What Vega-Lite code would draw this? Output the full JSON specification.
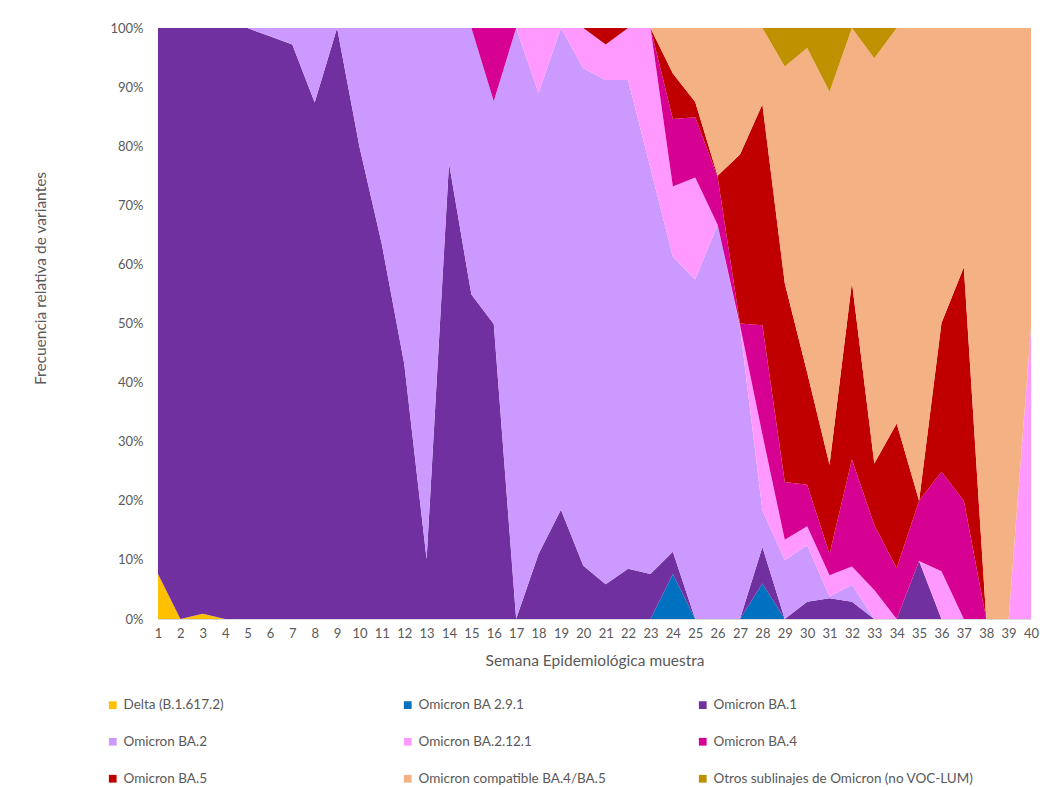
{
  "$schema": "https://vega.github.io/schema/vega-lite/v6.json",
  "width": 873,
  "height": 591,
  "autosize": {"type": "none"},
  "padding": {"left": 158, "top": 28, "right": 24, "bottom": 168},
  "background": "white",
  "config": {
    "font": "Lato",
    "view": {"stroke": null},
    "axis": {"labelFont": "Lato", "titleFont": "Lato", "labelColor": "#595959", "titleColor": "#595959", "labelFontSize": 13, "titleFontSize": 15.5, "titleFontWeight": "normal", "grid": false}
  },
  "datasets": {
    "nombres": [
      {"key": "a1", "variante": "Delta (B.1.617.2)"},
      {"key": "a2", "variante": "Omicron BA 2.9.1"},
      {"key": "a3", "variante": "Omicron BA.1"},
      {"key": "a4", "variante": "Omicron BA.2"},
      {"key": "a5", "variante": "Omicron BA.2.12.1"},
      {"key": "a6", "variante": "Omicron BA.4"},
      {"key": "a7", "variante": "Omicron BA.5"},
      {"key": "a8", "variante": "Omicron compatible BA.4/BA.5"},
      {"key": "a9", "variante": "Otros sublinajes de Omicron (no VOC-LUM)"}
    ]
  },
  "data": {
    "values": [
      {"semana": 1, "a1": 7.6, "a2": 0, "a3": 92.4, "a4": 0, "a5": 0, "a6": 0, "a7": 0, "a8": 0, "a9": 0},
      {"semana": 2, "a1": 0, "a2": 0, "a3": 100, "a4": 0, "a5": 0, "a6": 0, "a7": 0, "a8": 0, "a9": 0},
      {"semana": 3, "a1": 0.9, "a2": 0, "a3": 99.1, "a4": 0, "a5": 0, "a6": 0, "a7": 0, "a8": 0, "a9": 0},
      {"semana": 4, "a1": 0, "a2": 0, "a3": 100, "a4": 0, "a5": 0, "a6": 0, "a7": 0, "a8": 0, "a9": 0},
      {"semana": 5, "a1": 0, "a2": 0, "a3": 100, "a4": 0, "a5": 0, "a6": 0, "a7": 0, "a8": 0, "a9": 0},
      {"semana": 6, "a1": 0, "a2": 0, "a3": 98.6, "a4": 1.4, "a5": 0, "a6": 0, "a7": 0, "a8": 0, "a9": 0},
      {"semana": 7, "a1": 0, "a2": 0, "a3": 97.2, "a4": 2.8, "a5": 0, "a6": 0, "a7": 0, "a8": 0, "a9": 0},
      {"semana": 8, "a1": 0, "a2": 0, "a3": 87.4, "a4": 12.6, "a5": 0, "a6": 0, "a7": 0, "a8": 0, "a9": 0},
      {"semana": 9, "a1": 0, "a2": 0, "a3": 100, "a4": 0, "a5": 0, "a6": 0, "a7": 0, "a8": 0, "a9": 0},
      {"semana": 10, "a1": 0, "a2": 0, "a3": 79.9, "a4": 20.1, "a5": 0, "a6": 0, "a7": 0, "a8": 0, "a9": 0},
      {"semana": 11, "a1": 0, "a2": 0, "a3": 63.4, "a4": 36.6, "a5": 0, "a6": 0, "a7": 0, "a8": 0, "a9": 0},
      {"semana": 12, "a1": 0, "a2": 0, "a3": 43.2, "a4": 56.8, "a5": 0, "a6": 0, "a7": 0, "a8": 0, "a9": 0},
      {"semana": 13, "a1": 0, "a2": 0, "a3": 10.1, "a4": 89.9, "a5": 0, "a6": 0, "a7": 0, "a8": 0, "a9": 0},
      {"semana": 14, "a1": 0, "a2": 0, "a3": 77.1, "a4": 22.9, "a5": 0, "a6": 0, "a7": 0, "a8": 0, "a9": 0},
      {"semana": 15, "a1": 0, "a2": 0, "a3": 54.9, "a4": 45.1, "a5": 0, "a6": 0, "a7": 0, "a8": 0, "a9": 0},
      {"semana": 16, "a1": 0, "a2": 0, "a3": 49.9, "a4": 37.7, "a5": 0, "a6": 12.4, "a7": 0, "a8": 0, "a9": 0},
      {"semana": 17, "a1": 0, "a2": 0, "a3": 0, "a4": 100, "a5": 0, "a6": 0, "a7": 0, "a8": 0, "a9": 0},
      {"semana": 18, "a1": 0, "a2": 0, "a3": 11.0, "a4": 78.0, "a5": 11.0, "a6": 0, "a7": 0, "a8": 0, "a9": 0},
      {"semana": 19, "a1": 0, "a2": 0, "a3": 18.5, "a4": 81.5, "a5": 0, "a6": 0, "a7": 0, "a8": 0, "a9": 0},
      {"semana": 20, "a1": 0, "a2": 0, "a3": 9.0, "a4": 84.2, "a5": 6.8, "a6": 0, "a7": 0, "a8": 0, "a9": 0},
      {"semana": 21, "a1": 0, "a2": 0, "a3": 5.9, "a4": 85.3, "a5": 6.0, "a6": 0, "a7": 2.8, "a8": 0, "a9": 0},
      {"semana": 22, "a1": 0, "a2": 0, "a3": 8.5, "a4": 82.7, "a5": 8.8, "a6": 0, "a7": 0, "a8": 0, "a9": 0},
      {"semana": 23, "a1": 0, "a2": 0, "a3": 7.6, "a4": 68.7, "a5": 23.7, "a6": 0, "a7": 0, "a8": 0, "a9": 0},
      {"semana": 24, "a1": 0, "a2": 7.6, "a3": 3.8, "a4": 49.9, "a5": 11.9, "a6": 11.4, "a7": 7.7, "a8": 7.7, "a9": 0},
      {"semana": 25, "a1": 0, "a2": 0, "a3": 0, "a4": 57.5, "a5": 17.2, "a6": 10.2, "a7": 2.6, "a8": 12.5, "a9": 0},
      {"semana": 26, "a1": 0, "a2": 0, "a3": 0, "a4": 66.7, "a5": 0, "a6": 8.1, "a7": 0.2, "a8": 25.0, "a9": 0},
      {"semana": 27, "a1": 0, "a2": 0, "a3": 0, "a4": 49.4, "a5": 0.3, "a6": 0.3, "a7": 28.6, "a8": 21.4, "a9": 0},
      {"semana": 28, "a1": 0, "a2": 6.0, "a3": 6.2, "a4": 6.2, "a5": 12.8, "a6": 18.5, "a7": 37.4, "a8": 12.9, "a9": 0},
      {"semana": 29, "a1": 0, "a2": 0, "a3": 0, "a4": 10.0, "a5": 3.4, "a6": 9.8, "a7": 33.6, "a8": 36.7, "a9": 6.5},
      {"semana": 30, "a1": 0, "a2": 0, "a3": 2.9, "a4": 9.6, "a5": 3.2, "a6": 7.0, "a7": 19.0, "a8": 54.9, "a9": 3.4},
      {"semana": 31, "a1": 0, "a2": 0, "a3": 3.5, "a4": 0.3, "a5": 3.6, "a6": 3.6, "a7": 15.1, "a8": 63.1, "a9": 10.8},
      {"semana": 32, "a1": 0, "a2": 0, "a3": 2.9, "a4": 2.9, "a5": 3.1, "a6": 18.1, "a7": 30.0, "a8": 43.0, "a9": 0},
      {"semana": 33, "a1": 0, "a2": 0, "a3": 0, "a4": 0, "a5": 4.9, "a6": 11.0, "a7": 10.4, "a8": 68.6, "a9": 5.1},
      {"semana": 34, "a1": 0, "a2": 0, "a3": 0, "a4": 0, "a5": 0, "a6": 8.6, "a7": 24.5, "a8": 66.9, "a9": 0},
      {"semana": 35, "a1": 0, "a2": 0, "a3": 9.8, "a4": 0, "a5": 0, "a6": 10.2, "a7": 0, "a8": 80.0, "a9": 0},
      {"semana": 36, "a1": 0, "a2": 0, "a3": 0, "a4": 0, "a5": 8.1, "a6": 16.8, "a7": 25.2, "a8": 49.9, "a9": 0},
      {"semana": 37, "a1": 0, "a2": 0, "a3": 0, "a4": 0, "a5": 0, "a6": 20.0, "a7": 39.5, "a8": 40.5, "a9": 0},
      {"semana": 38, "a1": 0, "a2": 0, "a3": 0, "a4": 0, "a5": 0, "a6": 0, "a7": 0, "a8": 100, "a9": 0},
      {"semana": 39, "a1": 0, "a2": 0, "a3": 0, "a4": 0, "a5": 0, "a6": 0, "a7": 0, "a8": 100, "a9": 0},
      {"semana": 40, "a1": 0, "a2": 0, "a3": 0, "a4": 0, "a5": 49.4, "a6": 0, "a7": 0, "a8": 50.6, "a9": 0}
    ]
  },
  "transform": [
    {"fold": ["a1", "a2", "a3", "a4", "a5", "a6", "a7", "a8", "a9"], "as": ["key", "pct"]},
    {"lookup": "key", "from": {"data": {"name": "nombres"}, "key": "key", "fields": ["variante"]}}
  ],
  "mark": {"type": "area", "interpolate": "linear"},
  "encoding": {
    "x": {
      "field": "semana",
      "type": "ordinal",
      "scale": {"type": "point", "padding": 0},
      "axis": {"title": "Semana Epidemiológica muestra", "labelAngle": 0, "ticks": false, "domainColor": "#d9d9d9", "labelPadding": 8, "titlePadding": 13}
    },
    "y": {
      "field": "pct",
      "type": "quantitative",
      "stack": "normalize",
      "scale": {"domain": [0, 1], "nice": false},
      "axis": {"title": "Frecuencia relativa de variantes", "format": ".0%", "values": [0, 0.1, 0.2, 0.3, 0.4, 0.5, 0.6, 0.7, 0.8, 0.9, 1], "domain": false, "ticks": false, "labelPadding": 15, "titleX": -118, "titleY": 250, "titleAngle": -90, "titleAlign": "center", "titleBaseline": "middle"}
    },
    "order": {"field": "key", "type": "ordinal", "sort": "ascending"},
    "color": {
      "field": "variante",
      "type": "nominal",
      "scale": {
        "domain": ["Delta (B.1.617.2)", "Omicron BA 2.9.1", "Omicron BA.1", "Omicron BA.2", "Omicron BA.2.12.1", "Omicron BA.4", "Omicron BA.5", "Omicron compatible BA.4/BA.5", "Otros sublinajes de Omicron (no VOC-LUM)"],
        "range": ["#FFC000", "#0070C0", "#7030A0", "#CC99FF", "#FF99FF", "#D60093", "#C00000", "#F4B183", "#BF9000"]
      },
      "legend": {
        "title": null,
        "orient": "none",
        "legendX": -52,
        "legendY": 670,
        "direction": "horizontal",
        "columns": 3,
        "gridAlign": "all",
        "columnPadding": 17,
        "rowPadding": 22,
        "symbolType": "square",
        "symbolSize": 60,
        "symbolStrokeWidth": 0,
        "labelFont": "Lato",
        "labelFontSize": 13.5,
        "labelColor": "#595959",
        "labelOffset": 4,
        "labelLimit": 400
      }
    }
  }
}
